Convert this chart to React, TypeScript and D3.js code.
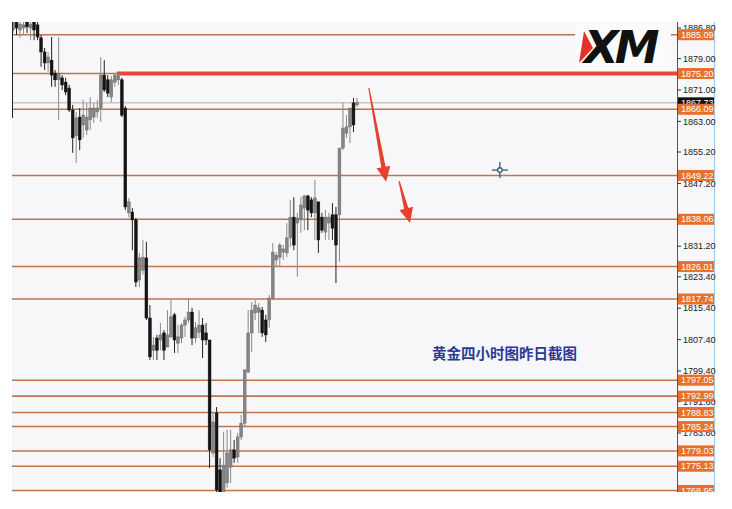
import React from "react";
import * as d3 from "d3";

const candleOpen = [1886.3,1888.3,1886.3,1886.8,1888.3,1886.8,1888.3,1887.6,1884.3,1880.7,1877.9,1878.6,1875.3,1873.6,1874.1,1873.0,1871.5,1865.9,1859.3,1864.1,1862.1,1860.8,1863.4,1864.1,1865.4,1866.4,1874.8,1873.6,1869.2,1873.0,1873.6,1873.6,1866.4,1839.7,1839.9,1837.9,1822.6,1825.1,1828.2,1812.9,1804.7,1807.8,1807.3,1809.1,1805.5,1808.1,1813.7,1806.5,1807.8,1811.1,1812.4,1814.4,1807.8,1809.3,1811.1,1809.1,1807.3,1778.5,1788.7,1774.2,1767.0,1770.9,1774.9,1779.3,1777.5,1782.6,1786.1,1799.1,1809.1,1814.2,1814.4,1814.9,1812.4,1812.4,1818.0,1827.7,1828.4,1829.7,1829.5,1833.3,1838.6,1837.1,1837.9,1840.9,1844.0,1843.0,1839.7,1842.5,1838.6,1834.8,1837.1,1839.2,1839.2,1839.2,1856.2,1860.0,1861.6,1867.7,1867.2];
const candleHigh = [1888.8,1888.8,1888.8,1888.8,1888.8,1888.8,1888.8,1888.8,1885.0,1881.7,1880.7,1884.5,1876.1,1884.5,1874.8,1874.1,1872.3,1867.2,1865.4,1866.4,1868.5,1867.7,1869.2,1867.7,1868.5,1879.4,1878.6,1874.8,1874.6,1875.3,1875.3,1874.1,1866.9,1843.5,1840.9,1838.4,1829.5,1832.8,1832.3,1816.2,1808.1,1808.6,1811.6,1809.8,1814.9,1817.5,1814.2,1811.1,1811.6,1813.2,1818.0,1815.5,1811.9,1814.9,1812.9,1811.6,1807.3,1788.9,1790.2,1777.2,1783.9,1784.4,1784.4,1781.8,1783.6,1788.2,1799.7,1814.9,1817.0,1817.5,1816.7,1815.7,1813.7,1818.8,1832.0,1829.7,1832.0,1831.5,1837.1,1843.0,1843.7,1839.7,1843.7,1844.3,1844.3,1843.7,1848.1,1842.5,1839.7,1840.4,1839.7,1842.2,1841.2,1856.2,1867.7,1864.6,1866.4,1869.0,1869.0];
const candleLow = [1885.5,1885.0,1884.3,1885.3,1885.5,1883.7,1883.7,1883.7,1876.9,1876.1,1875.6,1871.8,1871.8,1863.4,1871.0,1869.7,1865.4,1855.0,1852.4,1855.7,1858.8,1859.5,1860.8,1862.6,1863.9,1862.9,1870.5,1869.2,1867.9,1871.8,1872.3,1864.1,1840.4,1838.6,1830.2,1820.8,1820.8,1823.9,1812.4,1802.2,1802.2,1802.2,1804.7,1802.2,1805.5,1807.8,1804.0,1804.0,1806.5,1808.1,1811.6,1806.0,1806.5,1807.8,1802.7,1806.0,1774.7,1777.5,1768.3,1765.5,1765.8,1769.6,1770.9,1776.0,1776.0,1781.8,1785.1,1798.9,1804.2,1812.4,1809.1,1808.1,1806.8,1810.4,1817.5,1825.9,1825.9,1827.7,1828.4,1831.0,1830.2,1823.4,1834.6,1835.3,1835.3,1838.6,1832.8,1829.5,1834.6,1832.8,1832.8,1832.8,1821.8,1827.2,1855.7,1858.8,1857.5,1860.3,1866.7];
const candleClose = [1888.3,1886.8,1887.8,1887.6,1887.1,1887.8,1886.3,1884.5,1880.7,1877.9,1879.4,1874.8,1873.6,1875.3,1872.3,1870.5,1865.9,1858.8,1863.9,1858.3,1864.6,1864.1,1866.4,1866.4,1866.4,1874.8,1871.0,1870.2,1873.6,1874.8,1874.6,1864.6,1841.2,1842.5,1837.9,1822.1,1828.2,1828.4,1812.9,1803.0,1806.0,1804.7,1808.6,1804.7,1808.6,1813.2,1807.3,1808.1,1811.1,1812.4,1814.4,1807.8,1810.4,1811.1,1807.3,1807.3,1779.3,1786.4,1769.1,1766.5,1775.4,1778.5,1779.3,1777.2,1782.6,1786.1,1799.7,1809.1,1814.9,1816.2,1815.5,1809.1,1808.6,1818.0,1829.7,1828.9,1831.5,1830.5,1833.3,1838.6,1831.5,1838.4,1841.7,1844.0,1840.4,1839.7,1843.5,1832.8,1835.3,1838.6,1838.6,1835.8,1831.5,1856.2,1861.3,1861.6,1866.4,1862.1,1867.9];

const axisTicks = ["1886.80","1879.00","1871.00","1863.00","1855.20","1847.20","1831.20","1823.40","1815.40","1807.40","1799.40","1791.60","1783.60"];
const levelValues = [1885.09,1875.20,1866.09,1849.22,1838.06,1826.01,1817.74,1797.05,1792.99,1788.83,1785.24,1779.03,1775.13,1768.95];
const resistanceLevel = 1875.20;
const resistanceStartIndex = 29.6;
const lastPrice = 1867.73;
const arrowStarts = [[101.4, 1871.5],[110.0, 1847.8]];
const arrowTips = [[106.3, 1847.6],[113.1, 1837.1]];
const crossPoint = [138.7, 1850.6];
const noteText = "黄金四小时图昨日截图";

const W = 732, H = 509;
const plotLeft = 12, plotTop = 22, plotBottom = 492, axisX = 677, chartRight = 716;

export default function App() {
  const y = d3.scaleLinear().domain([1783.6, 1886.8]).range([433, 28]);
  const x = d3.scaleLinear().domain([0, candleOpen.length - 1]).range([13, 357]);
  const bodyW = 2.8;
  const lineColor = "#bd774d";
  const labelColor = "#e8702e";

  const arrowPath = (s: number[], t: number[]) => {
    const sx = x(s[0]), sy = y(s[1]), tx = x(t[0]), ty = y(t[1]);
    const len = Math.hypot(tx - sx, ty - sy);
    const dx = (tx - sx) / len, dy = (ty - sy) / len;
    const nx = -dy, ny = dx;
    const headLen = 15, headW = 7;
    const bx = tx - dx * headLen, by = ty - dy * headLen;
    const pts = [
      [sx + nx * 0.6, sy + ny * 0.6],
      [bx + nx * 2.2, by + ny * 2.2],
      [bx + nx * headW, by + ny * headW],
      [tx, ty],
      [bx - nx * headW, by - ny * headW],
      [bx - nx * 2.2, by - ny * 2.2],
      [sx - nx * 0.6, sy - ny * 0.6],
    ];
    return "M" + pts.map(p => p[0].toFixed(1) + "," + p[1].toFixed(1)).join("L") + "Z";
  };

  const cx = x(crossPoint[0]), cy = y(crossPoint[1]);
  const font = "'Liberation Sans', Arial, sans-serif";

  return (
    <svg width={W} height={H} style={{ position: "absolute", left: 0, top: 0, background: "#ffffff" }}>
      <defs>
        <clipPath id="plotClip"><rect x={plotLeft} y={plotTop} width={axisX - plotLeft} height={plotBottom - plotTop} /></clipPath>
        <clipPath id="axisClip"><rect x={axisX} y={plotTop} width={chartRight - axisX} height={plotBottom - plotTop} /></clipPath>
      </defs>
      <rect x={plotLeft} y={plotTop} width={chartRight - plotLeft} height={plotBottom - plotTop} fill="#f7f7f9" />
      <g clipPath="url(#plotClip)">
        {levelValues.map((v, i) => (
          <line key={"l" + i} x1={plotLeft} x2={axisX} y1={y(v)} y2={y(v)} stroke={lineColor} strokeWidth={1.6} />
        ))}
        <line x1={plotLeft} x2={axisX} y1={y(lastPrice)} y2={y(lastPrice)} stroke="#a9b4b0" strokeWidth={1} />
        <line x1={x(resistanceStartIndex)} x2={axisX} y1={y(resistanceLevel)} y2={y(resistanceLevel)} stroke="#e8473a" strokeWidth={4} />
        {candleOpen.map((o, i) => {
          const c = candleClose[i], h = candleHigh[i], l = candleLow[i];
          const up = c >= o;
          const col = up ? "#858585" : "#141414";
          const top = y(Math.max(o, c)), bot = y(Math.min(o, c));
          return (
            <g key={"c" + i}>
              <line x1={x(i)} x2={x(i)} y1={y(h)} y2={y(l)} stroke={up ? "#8a8a8a" : "#222"} strokeWidth={1} />
              <rect x={x(i) - bodyW / 2} y={top} width={bodyW} height={Math.max(1, bot - top)} fill={col} stroke={up ? "#6a6a6a" : "#111"} strokeWidth={0.5} />
            </g>
          );
        })}
        {arrowStarts.map((s, i) => (
          <path key={"a" + i} d={arrowPath(s, arrowTips[i])} fill="#e8402f" />
        ))}
        <g stroke="#2f5f6c" strokeWidth={1.3}>
          <line x1={cx - 8} x2={cx - 2.5} y1={cy} y2={cy} />
          <line x1={cx + 2.5} x2={cx + 8} y1={cy} y2={cy} />
          <line x1={cx} x2={cx} y1={cy - 8} y2={cy - 2.5} />
          <line x1={cx} x2={cx} y1={cy + 2.5} y2={cy + 8} />
          <circle cx={cx} cy={cy} r={2.3} fill="#f7f7f9" />
        </g>
        <text x={432} y={359} fontFamily="'Noto Sans CJK SC', sans-serif" fontSize={14.5} fontWeight={700} fill="#2c3a96">{noteText}</text>
        <rect x={575} y={24} width={96} height={46} fill="#fbfbfc" />
        <path d="M584,31 L593,48 L579,63 Z" fill="#e4322b" />
        <text x={584} y={63} fontFamily="'DejaVu Sans', sans-serif" fontSize={45} fontWeight={700} fontStyle="italic" letterSpacing={-4} fill="#111">XM</text>
      </g>
      <line x1={12.5} x2={12.5} y1={plotTop} y2={118} stroke="#222" strokeWidth={1} />
      <line x1={axisX + 0.5} x2={axisX + 0.5} y1={plotTop} y2={plotBottom} stroke="#555" strokeWidth={1} />
      <line x1={714.5} x2={714.5} y1={plotTop} y2={plotBottom} stroke="#a9c9e2" strokeWidth={1} />
      <g clipPath="url(#axisClip)" fontFamily={font} fontSize={9}>
        {axisTicks.map((t, i) => {
          const ty = y(+t);
          return (
            <g key={"t" + i}>
              <line x1={axisX} x2={axisX + 4} y1={ty} y2={ty} stroke="#333" />
              <text x={683} y={ty + 3.2} fill="#222">{t}</text>
            </g>
          );
        })}
        <rect x={678} y={y(lastPrice) - 5.5} width={36} height={11} fill="#111" />
        <text x={681} y={y(lastPrice) + 3.2} fill="#fff">{lastPrice.toFixed(2)}</text>
        {levelValues.map((v, i) => (
          <g key={"lb" + i}>
            <rect x={678} y={y(v) - 5.5} width={36} height={11} fill={labelColor} />
            <text x={681} y={y(v) + 3.2} fill="#fff">{v.toFixed(2)}</text>
          </g>
        ))}
      </g>
    </svg>
  );
}
